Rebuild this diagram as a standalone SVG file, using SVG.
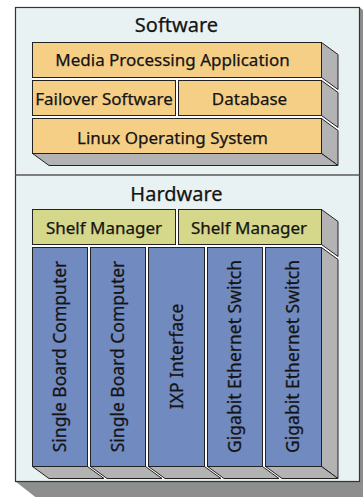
<svg xmlns="http://www.w3.org/2000/svg" width="363" height="497" viewBox="0 0 363 497">
  <style>
    .shadow { fill: #8e8e8e; }
    .frame { fill: #e9f2f2; stroke: #333333; stroke-width: 1.2; }
    .divider { stroke: #5a5a5a; stroke-width: 1.6; }
    .backing { fill: #ffffff; }
    .face { stroke: #222222; stroke-width: 1; stroke-linejoin: miter; }
    .sw { fill: #f6cf87; }
    .shelf { fill: #d5d78a; }
    .board { fill: #718ac0; }
    .side { fill: #b3b3b3; }
    text { font-family: "Noto Sans", "Open Sans", sans-serif; fill: #141414; stroke: #141414; stroke-width: 0.25; text-anchor: middle; }
    .title { font-size: 20px; }
    .label { font-size: 17px; }
    .vlabel { font-size: 17.5px; }
  </style>

  <!-- cabinet with its extruded drop shadow -->
  <polygon class="shadow" points="15.5,481.5 36,497.5 380,497.5 380,22.5 359.5,7.5 359.5,481.5"/>
  <rect class="frame" x="15.5" y="7.5" width="344" height="474"/>
  <line class="divider" x1="15.5" y1="175" x2="359.5" y2="175"/>

  <text class="title" x="176.5" y="32">Software</text>
  <text class="title" x="176.5" y="201">Hardware</text>

  <!-- white backing so the gaps between blocks read as white seams -->
  <polygon class="backing" points="32.5,42.5 321.5,42.5 338,54.5 338,165.5 49,165.5 32.5,153.5"/>
  <polygon class="backing" points="32.5,209.5 321.5,209.5 338,221.5 338,478.5 49,478.5 32.5,466.5"/>

  <!-- software stack -->
  <g id="media-processing-application">
    <polygon class="face side" points="321.5,42.5 338,54.5 338,89.5 321.5,77.5"/>
    <rect class="face sw" x="32.5" y="42.5" width="289" height="35"/>
    <text class="label" x="172.5" y="66">Media Processing Application</text>
  </g>
  <g id="failover-software">
    <rect class="face sw" x="32.5" y="80.5" width="143" height="35"/>
    <text class="label" x="104" y="105">Failover Software</text>
  </g>
  <g id="database">
    <polygon class="face side" points="321.5,80.5 338,92.5 338,127.5 321.5,115.5"/>
    <rect class="face sw" x="178.5" y="80.5" width="143" height="35"/>
    <text class="label" x="249.5" y="105">Database</text>
  </g>
  <g id="linux-operating-system">
    <polygon class="face side" points="321.5,118.5 338,130.5 338,165.5 321.5,153.5"/>
    <polygon class="face side" points="32.5,153.5 321.5,153.5 338,165.5 49,165.5"/>
    <rect class="face sw" x="32.5" y="118.5" width="289" height="35"/>
    <text class="label" x="172.5" y="143.5">Linux Operating System</text>
  </g>

  <!-- hardware stack -->
  <g id="shelf-manager-1">
    <rect class="face shelf" x="32.5" y="209.5" width="143" height="35"/>
    <text class="label" x="104" y="234">Shelf Manager</text>
  </g>
  <g id="shelf-manager-2">
    <polygon class="face side" points="321.5,209.5 338,221.5 338,256.5 321.5,244.5"/>
    <rect class="face shelf" x="178.5" y="209.5" width="143" height="35"/>
    <text class="label" x="249" y="234">Shelf Manager</text>
  </g>

  <g id="single-board-computer-1">
    <polygon class="face side" points="32.5,466.5 87.5,466.5 104,478.5 49,478.5"/>
    <rect class="face board" x="32.5" y="247.5" width="55" height="219"/>
    <text class="vlabel" transform="translate(65.5,356.5) rotate(-90)">Single Board Computer</text>
  </g>
  <g id="single-board-computer-2">
    <polygon class="face side" points="90.5,466.5 145.5,466.5 162,478.5 107,478.5"/>
    <rect class="face board" x="90.5" y="247.5" width="55" height="219"/>
    <text class="vlabel" transform="translate(123.5,356.5) rotate(-90)">Single Board Computer</text>
  </g>
  <g id="ixp-interface">
    <polygon class="face side" points="148.5,466.5 204.5,466.5 221,478.5 165,478.5"/>
    <rect class="face board" x="148.5" y="247.5" width="56" height="219"/>
    <text class="vlabel" transform="translate(182.5,356.5) rotate(-90)">IXP Interface</text>
  </g>
  <g id="gigabit-ethernet-switch-1">
    <polygon class="face side" points="207.5,466.5 262.5,466.5 279,478.5 224,478.5"/>
    <rect class="face board" x="207.5" y="247.5" width="55" height="219"/>
    <text class="vlabel" transform="translate(240.5,356.5) rotate(-90)">Gigabit Ethernet Switch</text>
  </g>
  <g id="gigabit-ethernet-switch-2">
    <polygon class="face side" points="321.5,247.5 338,259.5 338,478.5 321.5,466.5"/>
    <polygon class="face side" points="265.5,466.5 321.5,466.5 338,478.5 282,478.5"/>
    <rect class="face board" x="265.5" y="247.5" width="56" height="219"/>
    <text class="vlabel" transform="translate(299,356.5) rotate(-90)">Gigabit Ethernet Switch</text>
  </g>

  <g id="connectors"/>
</svg>
